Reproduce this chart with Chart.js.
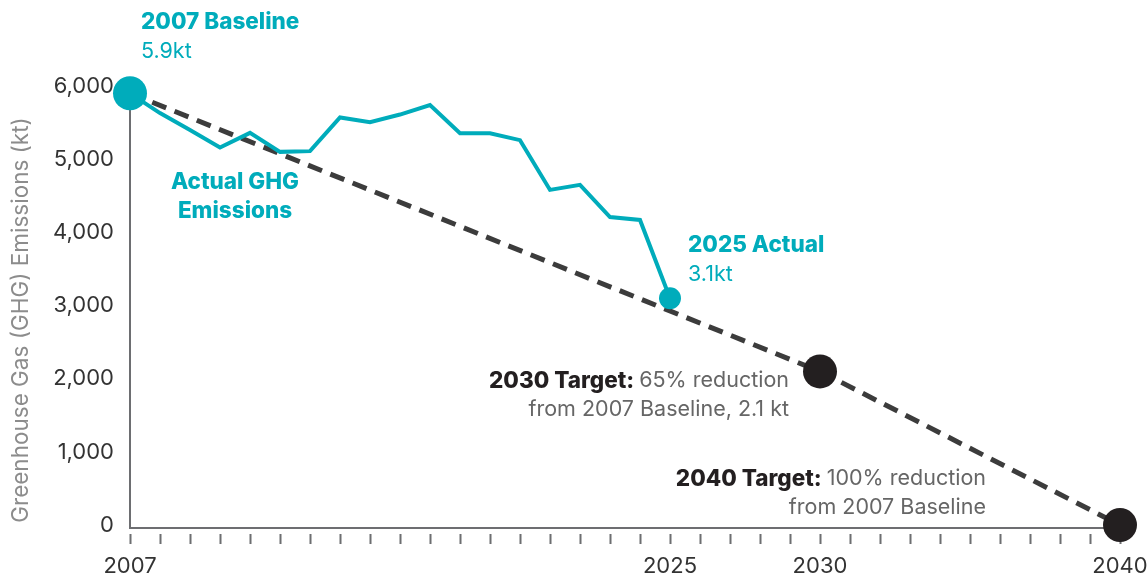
<!DOCTYPE html>
<html>
<head>
<meta charset="utf-8">
<script src="https://cdn.jsdelivr.net/npm/chart.js@4/dist/chart.umd.min.js"></script>
<style>
  body { margin: 0; background: #fff; }
  #wrap { width: 1148px; height: 578px; }
</style>
</head>
<body>
<div id="wrap"><canvas id="ghgChart" width="1148" height="578"></canvas></div>
<script>
// Emissions data (kt)
var actualYears = [2007, 2008, 2009, 2010, 2011, 2012, 2013, 2014, 2015, 2016,
                   2017, 2018, 2019, 2020, 2021, 2022, 2023, 2024, 2025];
var actualKt = [5900, 5630, 5400, 5160, 5360, 5100, 5110, 5570, 5505, 5610,
                5740, 5355, 5355, 5260, 4580, 4650, 4210, 4170, 3100];
var targetYears = [2007, 2030, 2040];
var targetKt = [5900, 2100, 0];
var yTicks = [0, 1000, 2000, 3000, 4000, 5000, 6000];
var xLabelYears = [2007, 2025, 2030, 2040];

var TEAL = '#00acbb';
var DARK = '#231f20';
var DASH = '#3c3c3c';
var AXIS = '#6d6e71';
var FONT = 'Inter, "Noto Sans", sans-serif';

function toPoints(xs, ys) {
  return xs.map(function (x, i) { return { x: x, y: ys[i] }; });
}

// text callouts, each line made of bold/regular runs
var callouts = [
  { x: 141, y: 22, align: 'left', lines: [[{ t: '2007 Baseline', b: true, c: TEAL }]] },
  { x: 141, y: 52, align: 'left', lines: [[{ t: '5.9kt', b: false, c: TEAL }]] },
  { x: 235, y: 182, align: 'center', lines: [[{ t: 'Actual GHG', b: true, c: TEAL }]] },
  { x: 235, y: 211, align: 'center', lines: [[{ t: 'Emissions', b: true, c: TEAL }]] },
  { x: 688, y: 245, align: 'left', lines: [[{ t: '2025 Actual', b: true, c: TEAL }]] },
  { x: 688, y: 275, align: 'left', lines: [[{ t: '3.1kt', b: false, c: TEAL }]] },
  { x: 789, y: 381, align: 'right', lines: [[{ t: '2030 Target: ', b: true, c: DARK }, { t: '65% reduction', b: false, c: '#666' }]] },
  { x: 789, y: 410, align: 'right', lines: [[{ t: 'from 2007 Baseline, 2.1 kt', b: false, c: '#666' }]] },
  { x: 986, y: 479, align: 'right', lines: [[{ t: '2040 Target: ', b: true, c: DARK }, { t: '100% reduction', b: false, c: '#666' }]] },
  { x: 986, y: 508, align: 'right', lines: [[{ t: 'from 2007 Baseline', b: false, c: '#666' }]] }
];

function runFont(r) {
  return r.b ? '800 22.5px ' + FONT : '400 21.5px ' + FONT;
}

var calloutPlugin = {
  id: 'callouts',
  afterDraw: function (chart) {
    var ctx = chart.ctx;
    ctx.save();
    ctx.textBaseline = 'middle';
    ctx.textAlign = 'left';
    callouts.forEach(function (co) {
      co.lines.forEach(function (runs) {
        var total = 0;
        runs.forEach(function (r) {
          ctx.font = runFont(r);
          r.w = ctx.measureText(r.t).width;
          total += r.w;
        });
        var x = co.x;
        if (co.align === 'right') x -= total;
        if (co.align === 'center') x -= total / 2;
        runs.forEach(function (r) {
          ctx.font = runFont(r);
          ctx.fillStyle = r.c;
          ctx.fillText(r.t, x, co.y);
          x += r.w;
        });
      });
    });
    // y axis title
    ctx.translate(21, 320);
    ctx.rotate(-Math.PI / 2);
    ctx.textAlign = 'center';
    ctx.font = '400 22.5px ' + FONT;
    ctx.fillStyle = '#8c8c8c';
    ctx.fillText('Greenhouse Gas (GHG) Emissions (kt)', 0, 0);
    ctx.restore();
  }
};

var ctx = document.getElementById('ghgChart').getContext('2d');
var chart = new Chart(ctx, {
  type: 'line',
  data: {
    datasets: [{
      label: 'Actual GHG Emissions',
      data: toPoints(actualYears, actualKt),
      borderColor: TEAL,
      borderWidth: 4,
      borderJoinStyle: 'miter',
      pointRadius: actualKt.map(function (v, i) {
        return i === 0 ? 17 : (i === actualKt.length - 1 ? 11 : 0);
      }),
      pointBackgroundColor: TEAL,
      pointBorderWidth: 0,
      pointHoverRadius: 0,
      tension: 0,
      fill: false,
      clip: false,
      order: 0
    }, {
      label: 'Target',
      data: toPoints(targetYears, targetKt),
      borderColor: DASH,
      borderWidth: 5,
      borderDash: [15, 9],
      pointRadius: [0, 17, 17],
      pointBackgroundColor: DARK,
      pointBorderWidth: 0,
      pointHoverRadius: 0,
      tension: 0,
      fill: false,
      clip: false,
      order: 1
    }]
  },
  options: {
    responsive: false,
    animation: false,
    events: [],
    layout: { padding: { top: 86, right: 28, left: 0, bottom: 0 } },
    plugins: {
      legend: { display: false },
      tooltip: { enabled: false }
    },
    scales: {
      x: {
        type: 'linear',
        min: 2007,
        max: 2040,
        afterFit: function (s) {
          s.height = 50;
          s.paddingLeft = 0;
          s.paddingRight = 0;
        },
        border: { display: true, color: AXIS, width: 2 },
        grid: {
          display: true,
          drawOnChartArea: false,
          drawTicks: true,
          tickLength: 16,
          tickColor: AXIS,
          tickWidth: 2,
          tickBorderDash: [0, 5, 11, 40]
        },
        ticks: {
          stepSize: 1,
          autoSkip: false,
          maxRotation: 0,
          padding: 9,
          color: '#333',
          font: { family: FONT, size: 22 },
          callback: function (v) {
            return xLabelYears.indexOf(v) >= 0 ? String(v) : '';
          }
        }
      },
      y: {
        min: -40,
        max: 6000,
        afterFit: function (s) { s.width = 130; },
        afterBuildTicks: function (s) {
          s.ticks = yTicks.map(function (v) { return { value: v }; });
        },
        border: { display: true, color: AXIS, width: 2 },
        grid: { display: false, drawTicks: false },
        ticks: {
          padding: 16,
          color: '#333',
          font: { family: FONT, size: 22 },
          callback: function (v) { return v.toLocaleString('en-US'); }
        }
      }
    }
  },
  plugins: [calloutPlugin]
});
</script>
</body>
</html>
